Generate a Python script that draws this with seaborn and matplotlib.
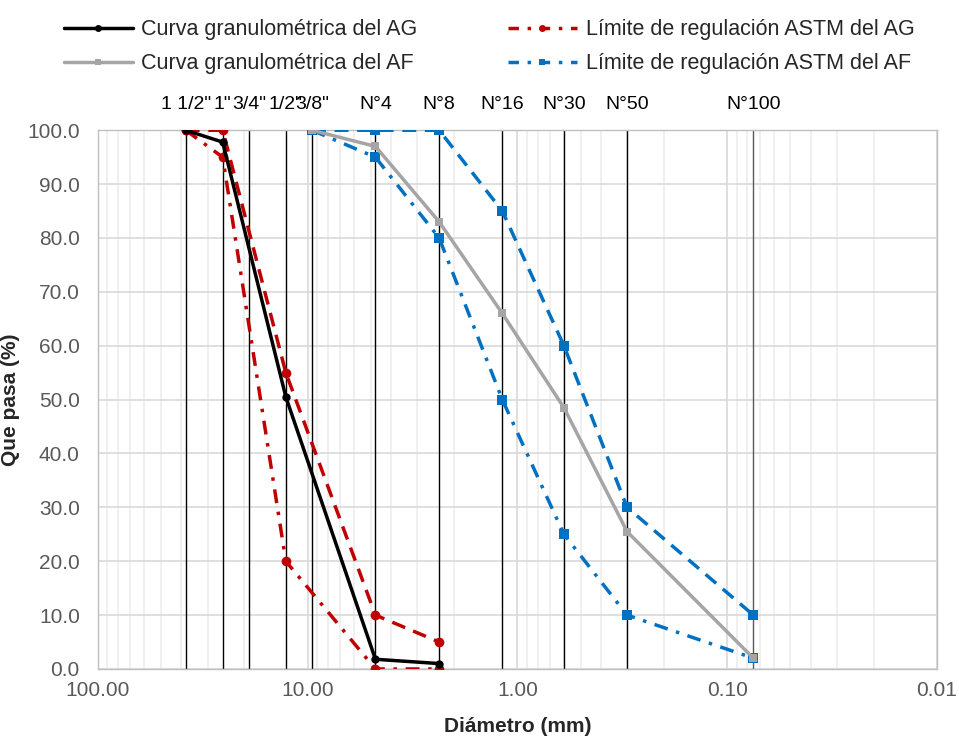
import matplotlib
matplotlib.use("Agg")
import matplotlib.pyplot as plt
from matplotlib.lines import Line2D
from matplotlib.ticker import FixedLocator, LogLocator, NullFormatter
import pandas as pd
import seaborn as sns

# sieve openings (mm) and names
tamiz_nombres = ['1 1/2"', '1"', '3/4"', '1/2"', '3/8"', 'N°4', 'N°8', 'N°16', 'N°30', 'N°50', 'N°100']
tamiz_mm = [38.1, 25.4, 19.05, 12.7, 9.525, 4.75, 2.36, 1.18, 0.6, 0.3, 0.075]

# coarse aggregate (AG)
ag_diam = [38.1, 25.4, 12.7, 4.75, 2.36]
ag_curva = [100.0, 97.8, 50.5, 1.8, 1.0]
ag_lim_sup = [100.0, 100.0, 55.0, 10.0, 5.0]
ag_lim_inf = [100.0, 95.0, 20.0, 0.0, 0.0]

# fine aggregate (AF)
af_diam = [9.525, 4.75, 2.36, 1.18, 0.6, 0.3, 0.075]
af_curva = [100.0, 97.0, 83.0, 66.0, 48.5, 25.5, 2.0]
af_lim_sup = [100.0, 100.0, 100.0, 85.0, 60.0, 30.0, 10.0]
af_lim_inf = [100.0, 95.0, 80.0, 50.0, 25.0, 10.0, 2.0]

sns.set_style("white")
plt.rcParams['font.family'] = ['Liberation Sans', 'DejaVu Sans']

ROJO = '#c00000'
AZUL = '#0070c0'
GRIS = '#a5a5a5'

fig = plt.figure(figsize=(9.59, 7.4), dpi=100)
ax = fig.add_axes([0.102, 0.096, 0.875, 0.728])

ax.set_xscale('log')
ax.set_xlim(100, 0.01)
ax.set_ylim(0, 100)

# grid
ax.xaxis.set_major_locator(FixedLocator([100, 10, 1, 0.1, 0.01]))
ax.xaxis.set_minor_locator(LogLocator(base=10, subs=range(2, 10)))
ax.xaxis.set_minor_formatter(NullFormatter())
ax.set_xticklabels(['100.00', '10.00', '1.00', '0.10', '0.01'])
ax.set_yticks(range(0, 101, 10))
ax.set_yticklabels([f'{v:.1f}' for v in range(0, 101, 10)])
ax.grid(which='major', color='#d9d9d9', lw=1.2)
ax.grid(which='minor', axis='x', color='#ededed', lw=1.2)
ax.set_axisbelow(True)
for s in ax.spines.values():
    s.set_color('#bfbfbf')
    s.set_linewidth(1.0)
ax.tick_params(axis='both', which='both', length=0, labelsize=15, colors='#595959')
ax.tick_params(axis='x', pad=9)
ax.tick_params(axis='y', pad=13)

# sieve lines and names
lineas_col = ['black'] * (len(tamiz_mm) - 1) + ['#595959']
ax.vlines(tamiz_mm, 0, 100, colors=lineas_col, lw=1.0, zorder=1.5)
for nombre, d in zip(tamiz_nombres, tamiz_mm):
    ax.text(d, 1.032, nombre, transform=ax.get_xaxis_transform(),
            ha='center', va='bottom', fontsize=14, color='black')

def serie(x, y, color, ls, marker, lw, ms):
    df = pd.DataFrame({'d': x, 'p': y})
    sns.lineplot(data=df, x='d', y='p', ax=ax, sort=False, color=color,
                 linestyle=ls, marker=marker, markersize=ms, lw=lw,
                 markeredgewidth=0, legend=False, zorder=3)

serie(ag_diam, ag_lim_sup, ROJO, (0, (4, 2.5)), 'o', 2.5, 7)
serie(ag_diam, ag_lim_inf, ROJO, (0, (4, 2.5, 1, 2.5)), 'o', 2.5, 7)
serie(af_diam, af_lim_sup, AZUL, (0, (4, 2.5)), 's', 2.5, 7)
serie(af_diam, af_lim_inf, AZUL, (0, (4, 2.5, 1, 2.5)), 's', 2.5, 7)
serie(ag_diam, ag_curva, 'black', '-', 'o', 2.5, 6)
serie(af_diam, af_curva, GRIS, '-', 's', 2.5, 6)

ax.set_xlabel('Diámetro (mm)', fontsize=15, fontweight='bold', labelpad=12)
ax.set_ylabel('Que pasa (%)', fontsize=15, fontweight='bold')
ax.yaxis.set_label_coords(-0.093, 0.5)

handles = [
    Line2D([], [], color='black', lw=2.5, marker='o', ms=5, markeredgewidth=0),
    Line2D([], [], color=GRIS, lw=2.5, marker='s', ms=5, markeredgewidth=0),
    Line2D([], [], color=ROJO, lw=2.5, ls=(0, (3, 2.5, 1, 2.5)), marker='o', ms=5, markeredgewidth=0),
    Line2D([], [], color=AZUL, lw=2.5, ls=(0, (3, 2.5, 1, 2.5)), marker='s', ms=5, markeredgewidth=0),
]
labels = ['Curva granulométrica del AG', 'Curva granulométrica del AF',
          'Límite de regulación ASTM del AG', 'Límite de regulación ASTM del AF']
fig.legend(handles, labels, loc='upper center', bbox_to_anchor=(0.51, 1.0), ncol=2,
           frameon=False, fontsize=15.5, handlelength=3.2, columnspacing=4.2,
           labelspacing=0.6, handletextpad=0.4)

fig.savefig('out.png', dpi=100)
